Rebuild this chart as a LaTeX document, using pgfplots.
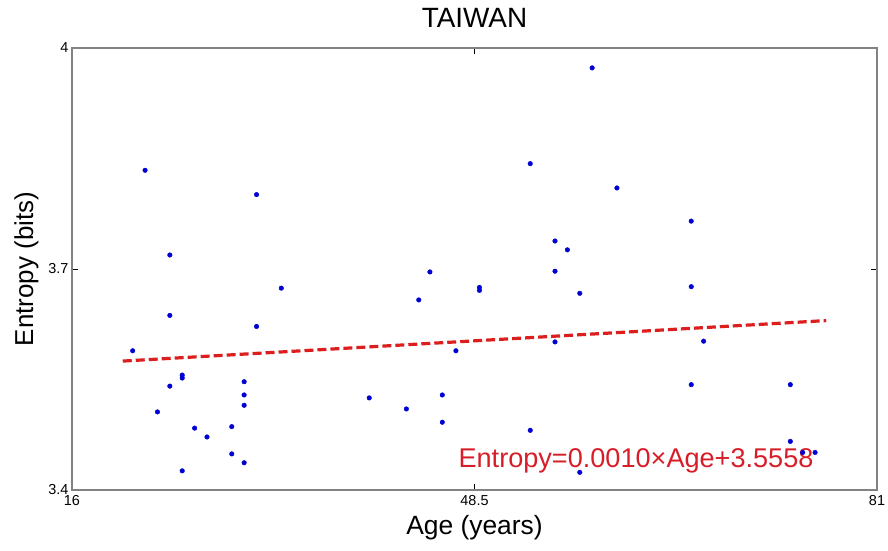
\documentclass[border=0pt]{standalone}
\usepackage{fontspec}
\setmainfont{Liberation Sans}
\usepackage{pgfplots}
\pgfplotsset{compat=1.18}
\definecolor{dotblue}{RGB}{0,0,210}
\definecolor{fitred}{RGB}{220,30,30}
\definecolor{eqred}{RGB}{215,30,40}
\definecolor{axgray}{RGB}{130,130,130}
\begin{document}
\begin{tikzpicture}
\begin{axis}[
  scale only axis,
  width=805bp, height=442bp,
  xmin=16, xmax=81, ymin=3.4, ymax=4,
  xtick={16,48.5,81}, ytick={3.4,3.7,4},
  tick align=inside,
  major tick length=6bp,
  tick style={black, line width=0.6bp},
  axis line style={axgray, line width=1.4bp},
  /pgf/number format/assume math mode=true,
  ticklabel style={font=\fontsize{14.5}{16}\selectfont},
  xticklabel style={yshift=-2bp},
  title={TAIWAN},
  title style={at={(0.5,1.0339)}, anchor=base, font=\fontsize{28}{32}\selectfont},
  xlabel={Age (years)},
  xlabel style={at={(0.5,-0.1018)}, anchor=base, font=\fontsize{26.5}{30}\selectfont},
  ylabel={Entropy (bits)},
  ylabel style={at={(-0.0484,0.5)}, anchor=base, font=\fontsize{26}{30}\selectfont},
  clip=false,
]
\addplot[only marks, mark=*, mark size=2.3bp, dotblue] coordinates {
(21.9,3.834) (30.9,3.801) (23.9,3.719) (44.9,3.696) (32.9,3.674)
(48.9,3.675) (48.9,3.671) (58.0,3.973) (53.0,3.843) (60.0,3.810)
(66.0,3.765) (55.0,3.738) (56.0,3.726) (55.0,3.697) (66.0,3.676)
(20.9,3.589) (23.9,3.637) (30.9,3.622) (44.0,3.658) (47.0,3.589)
(24.9,3.556) (24.9,3.552) (23.9,3.541) (29.9,3.547) (29.9,3.529)
(29.9,3.515) (22.9,3.506) (40.0,3.525) (43.0,3.510) (45.9,3.529)
(45.9,3.492) (25.9,3.484) (26.9,3.472) (28.9,3.486) (28.9,3.449)
(29.9,3.437) (24.9,3.426) (57.0,3.667) (55.0,3.601) (67.0,3.602)
(66.0,3.543) (74.0,3.543) (53.0,3.481) (74.0,3.466) (75.0,3.451)
(76.0,3.451) (57.0,3.424)
};
\addplot[fitred, line width=3.2bp, dash pattern=on 9bp off 4bp] coordinates {
(20.1,3.575) (76.9,3.630)
};
\node[anchor=base west, text=eqred, font=\fontsize{27.2}{30}\selectfont, inner sep=0pt]
  at (axis cs:47.2,3.430) {Entropy=0.0010×Age+3.5558};
\end{axis}
\pgfresetboundingbox
\path ([xshift=-72bp,yshift=-61bp]current axis.south west) rectangle ([xshift=11bp,yshift=48bp]current axis.north east);
\end{tikzpicture}
\end{document}
